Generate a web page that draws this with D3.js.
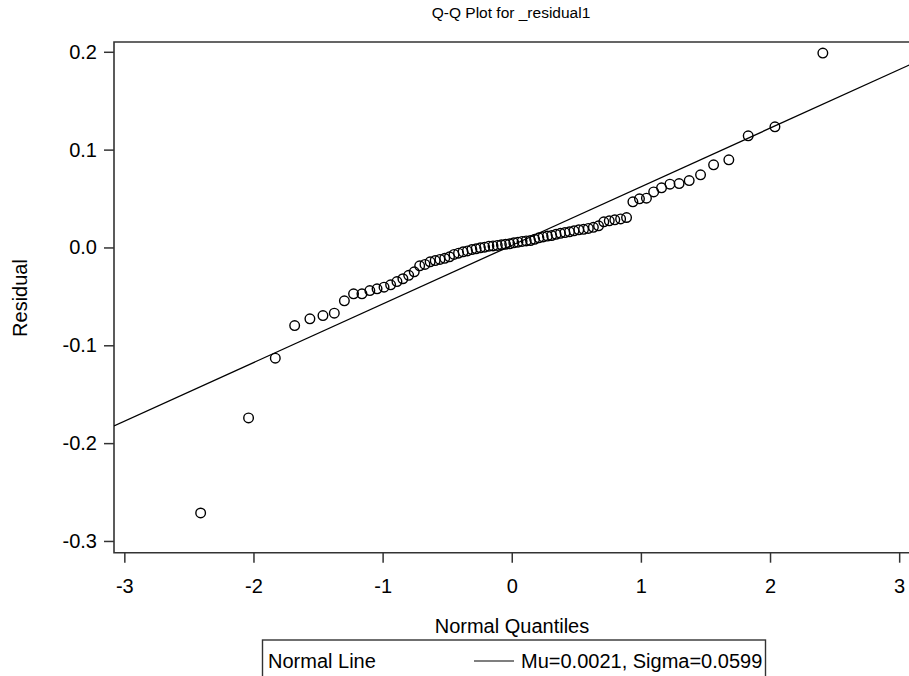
<!DOCTYPE html>
<html>
<head>
<meta charset="utf-8">
<script src="https://cdn.jsdelivr.net/npm/d3@7"></script>
<style>
  html, body { margin: 0; padding: 0; background: #fff; }
  svg { display: block; font-family: "Liberation Sans", Arial, sans-serif; }
</style>
</head>
<body>
<svg id="chart" width="909" height="676"></svg>
<script>
// Theoretical normal quantiles (Blom positions, n = 78)
const normalQuantiles = [
  -2.409, -2.038, -1.831, -1.681, -1.563, -1.462, -1.374, -1.296, -1.225, -1.160,
  -1.099, -1.043, -0.989, -0.938, -0.889, -0.843, -0.798, -0.755, -0.713, -0.672,
  -0.632, -0.593, -0.556, -0.519, -0.482, -0.447, -0.412, -0.377, -0.343, -0.309,
  -0.276, -0.243, -0.210, -0.177, -0.145, -0.112, -0.080, -0.048, -0.016,
   0.016,  0.048,  0.080,  0.112,  0.145,  0.177,  0.210,  0.243,  0.276,  0.309,
   0.343,  0.377,  0.412,  0.447,  0.482,  0.519,  0.556,  0.593,  0.632,  0.672,
   0.713,  0.755,  0.798,  0.843,  0.889,  0.938,  0.989,  1.043,  1.099,  1.160,
   1.225,  1.296,  1.374,  1.462,  1.563,  1.681,  1.831,  2.038,  2.409
];

// Ordered residuals
const residuals = [
  -0.2714, -0.1742, -0.1132, -0.0799, -0.0730, -0.0696, -0.0672, -0.0546, -0.0474, -0.0474,
  -0.0441, -0.0423, -0.0406, -0.0382, -0.0349, -0.0320, -0.0285, -0.0249, -0.0188, -0.0173,
  -0.0147, -0.0134, -0.0122, -0.0111, -0.0096, -0.0071, -0.0058, -0.0045, -0.0035, -0.0022,
  -0.0014, -0.0004,  0.0003,  0.0013,  0.0016,  0.0021,  0.0027,  0.0032,  0.0037,
   0.0047,  0.0054,  0.0062,  0.0067,  0.0071,  0.0083,  0.0098,  0.0108,  0.0116,  0.0122,
   0.0134,  0.0144,  0.0152,  0.0160,  0.0170,  0.0180,  0.0185,  0.0195,  0.0206,  0.0221,
   0.0262,  0.0272,  0.0282,  0.0292,  0.0306,  0.0466,  0.0497,  0.0504,  0.0568,  0.0609,
   0.0647,  0.0653,  0.0684,  0.0742,  0.0845,  0.0896,  0.1141,  0.1233,  0.1987
];

// Fitted normal reference line
const mu = 0.0021;
const sigma = 0.0599;

const xTicks = [-3, -2, -1, 0, 1, 2, 3];
const yTicks = [-0.3, -0.2, -0.1, 0.0, 0.1, 0.2];

const titleText = "Q-Q Plot for _residual1";
const xLabel = "Normal Quantiles";
const yLabel = "Residual";
const legendName = "Normal Line";
const legendStats = "Mu=" + mu.toFixed(4) + ", Sigma=" + sigma.toFixed(4);

const svg = d3.select("#chart");
const frame = { left: 114, right: 909.5, top: 42, bottom: 552.7 };
const labelSize = 20;

const x = d3.scaleLinear().domain([-3.08, 3.08]).range([frame.left, frame.right]);
const y = d3.scaleLinear().domain([-0.312, 0.21]).range([frame.bottom, frame.top]);

const axisColor = "#333";

// Title
svg.append("text")
  .attr("x", 511).attr("y", 18)
  .attr("text-anchor", "middle")
  .attr("font-size", 15.5)
  .attr("fill", "#000")
  .text(titleText);

// Clip for plotted marks
svg.append("clipPath").attr("id", "plotClip")
  .append("rect")
  .attr("x", frame.left).attr("y", frame.top)
  .attr("width", frame.right - frame.left).attr("height", frame.bottom - frame.top);

// Axes
const xAxis = d3.axisBottom(x).tickValues(xTicks).tickSize(10).tickPadding(16)
  .tickFormat(d => d3.format("d")(d).replace("−", "-"));
const gx = svg.append("g").attr("transform", `translate(0,${frame.bottom})`).call(xAxis);
gx.select(".domain").remove();
gx.selectAll("line").attr("stroke", axisColor).attr("stroke-width", 1.5);
gx.selectAll("text").attr("font-size", labelSize).attr("fill", "#000")
  .attr("font-family", "Liberation Sans, Arial, sans-serif");

const yAxis = d3.axisLeft(y).tickValues(yTicks).tickSize(10).tickPadding(7)
  .tickFormat(d => d3.format(".1f")(d).replace("−", "-"));
const gy = svg.append("g").attr("transform", `translate(${frame.left},0)`).call(yAxis);
gy.select(".domain").remove();
gy.selectAll("line").attr("stroke", axisColor).attr("stroke-width", 1.5);
gy.selectAll("text").attr("font-size", labelSize).attr("fill", "#000")
  .attr("font-family", "Liberation Sans, Arial, sans-serif");

// Frame (left, top, bottom edges)
svg.append("path")
  .attr("d", `M${frame.right + 2},${frame.top} H${frame.left} V${frame.bottom} H${frame.right + 2}`)
  .attr("fill", "none")
  .attr("stroke", axisColor)
  .attr("stroke-width", 1.6);

// Reference line
const plot = svg.append("g").attr("clip-path", "url(#plotClip)");
const xd = x.domain();
plot.append("line")
  .attr("x1", x(xd[0])).attr("y1", y(mu + sigma * xd[0]))
  .attr("x2", x(xd[1])).attr("y2", y(mu + sigma * xd[1]))
  .attr("stroke", "#000")
  .attr("stroke-width", 1.3);

// Points
plot.selectAll("circle.pt")
  .data(d3.zip(normalQuantiles, residuals))
  .join("circle")
  .attr("class", "pt")
  .attr("cx", d => x(d[0]))
  .attr("cy", d => y(d[1]))
  .attr("r", 4.8)
  .attr("fill", "none")
  .attr("stroke", "#000")
  .attr("stroke-width", 1.4);

// Axis titles
svg.append("text")
  .attr("x", 512).attr("y", 633)
  .attr("text-anchor", "middle")
  .attr("font-size", labelSize)
  .attr("fill", "#000")
  .text(xLabel);

svg.append("text")
  .attr("transform", "translate(27,298) rotate(-90)")
  .attr("text-anchor", "middle")
  .attr("font-size", labelSize)
  .attr("fill", "#000")
  .text(yLabel);

// Legend
const legend = svg.append("g");
legend.append("rect")
  .attr("x", 262.5).attr("y", 640)
  .attr("width", 503).attr("height", 50)
  .attr("fill", "none")
  .attr("stroke", axisColor)
  .attr("stroke-width", 1.4);
legend.append("text")
  .attr("x", 268).attr("y", 668)
  .attr("font-size", labelSize)
  .attr("fill", "#000")
  .text(legendName);
legend.append("line")
  .attr("x1", 474).attr("x2", 514)
  .attr("y1", 661).attr("y2", 661)
  .attr("stroke", "#000")
  .attr("stroke-width", 1.2);
legend.append("text")
  .attr("x", 521).attr("y", 668)
  .attr("font-size", labelSize)
  .attr("fill", "#000")
  .text(legendStats);
</script>
</body>
</html>
